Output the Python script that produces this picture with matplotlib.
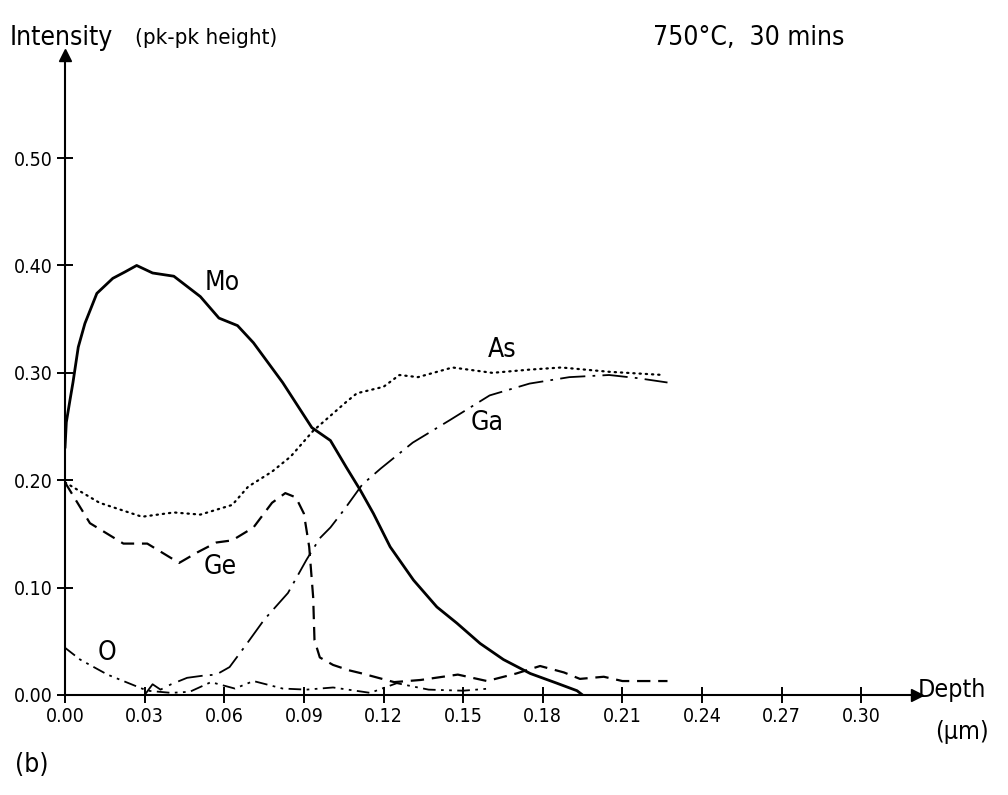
import matplotlib
matplotlib.use("Agg")
import matplotlib.pyplot as plt

plt.rcParams['font.family'] = ['DejaVu Sans']
plt.rcParams['font.stretch'] = 'condensed'

# depth (um) / intensity (pk-pk height)
mo_x = [0.0, 0.0005, 0.0019, 0.003, 0.005, 0.0075, 0.012, 0.018, 0.0226, 0.027, 0.033, 0.041,
        0.051, 0.058, 0.065, 0.071, 0.082, 0.093, 0.100, 0.106, 0.1112, 0.1162, 0.1225, 0.1313,
        0.1401, 0.1476, 0.1564, 0.1652, 0.1753, 0.1853, 0.1929, 0.195]
mo_y = [0.230, 0.254, 0.275, 0.291, 0.324, 0.346, 0.374, 0.388, 0.394, 0.400, 0.393, 0.390,
        0.371, 0.351, 0.344, 0.328, 0.291, 0.249, 0.237, 0.212, 0.191, 0.169, 0.138, 0.107,
        0.082, 0.067, 0.048, 0.033, 0.020, 0.011, 0.004, 0.0]

as_x = [0.0, 0.013, 0.029, 0.041, 0.051, 0.063, 0.069, 0.078, 0.085, 0.0935, 0.106, 0.110,
        0.120, 0.126, 0.133, 0.146, 0.161, 0.175, 0.187, 0.205, 0.2255]
as_y = [0.198, 0.179, 0.166, 0.170, 0.168, 0.177, 0.194, 0.208, 0.222, 0.246, 0.273, 0.281,
        0.287, 0.298, 0.296, 0.305, 0.300, 0.303, 0.305, 0.301, 0.298]

ga_x = [0.030, 0.033, 0.036, 0.040, 0.046, 0.052, 0.057, 0.062, 0.068, 0.075, 0.084, 0.091,
        0.096, 0.100, 0.105, 0.112, 0.119, 0.131, 0.145, 0.160, 0.175, 0.190, 0.205, 0.216, 0.227]
ga_y = [0.0, 0.010, 0.005, 0.010, 0.016, 0.018, 0.019, 0.026, 0.046, 0.070, 0.095, 0.126,
        0.146, 0.156, 0.172, 0.196, 0.211, 0.235, 0.256, 0.279, 0.290, 0.296, 0.298, 0.295, 0.291]

ge_x = [0.0, 0.0094, 0.022, 0.031, 0.037, 0.043, 0.050, 0.057, 0.063, 0.071, 0.078, 0.083,
        0.087, 0.090, 0.092, 0.0935, 0.094, 0.096, 0.101, 0.107, 0.112, 0.124, 0.134, 0.148,
        0.159, 0.170, 0.179, 0.188, 0.194, 0.203, 0.210, 0.227]
ge_y = [0.198, 0.160, 0.141, 0.141, 0.132, 0.123, 0.133, 0.142, 0.144, 0.156, 0.179, 0.188,
        0.184, 0.169, 0.138, 0.091, 0.051, 0.035, 0.028, 0.023, 0.020, 0.012, 0.014, 0.019,
        0.013, 0.020, 0.027, 0.021, 0.015, 0.017, 0.013, 0.013]

o_x = [0.0, 0.0057, 0.016, 0.026, 0.031, 0.040, 0.047, 0.055, 0.064, 0.071, 0.082, 0.091,
       0.101, 0.115, 0.125, 0.137, 0.150, 0.160]
o_y = [0.044, 0.033, 0.019, 0.009, 0.004, 0.002, 0.003, 0.012, 0.006, 0.013, 0.006, 0.005,
       0.007, 0.002, 0.011, 0.005, 0.004, 0.006]

labels = ['Mo', 'As', 'Ga', 'Ge', 'O']
label_pos = [(0.0592, 0.384), (0.1647, 0.321), (0.159, 0.253), (0.0584, 0.119), (0.0158, 0.039)]

x_ticks = [0.00, 0.03, 0.06, 0.09, 0.12, 0.15, 0.18, 0.21, 0.24, 0.27, 0.30]
y_ticks = [0.00, 0.10, 0.20, 0.30, 0.40, 0.50]

W, H = 1008, 795
fig = plt.figure(figsize=(W / 100, H / 100), dpi=100)
ax = fig.add_axes([65 / W, 100 / H, 852 / W, 640 / H])
ax.set_xlim(0, 0.321)
ax.set_ylim(0, 0.596)

ax.plot(mo_x, mo_y, color='black', lw=2.0, solid_capstyle='round')
ax.plot(as_x, as_y, color='black', lw=1.6, linestyle=(0, (0.6, 2.2)), dash_capstyle='round')
ax.plot(ga_x, ga_y, color='black', lw=1.3, linestyle=(0, (14, 4, 1.5, 4)))
ax.plot(ge_x, ge_y, color='black', lw=1.6, linestyle=(0, (6, 3.5)))
ax.plot(o_x, o_y, color='black', lw=1.3, linestyle=(0, (7, 3, 1.5, 3, 1.5, 3)))

for lab, (lx, ly) in zip(labels, label_pos):
    ax.text(lx, ly, lab, fontsize=19, ha='center', va='center')

# axes with arrow heads
for s in ['top', 'right']:
    ax.spines[s].set_visible(False)
for s in ['left', 'bottom']:
    ax.spines[s].set_linewidth(1.5)
ax.plot([1], [0], marker='>', color='black', markersize=8, transform=ax.transAxes, clip_on=False)
ax.plot([0], [1], marker='^', color='black', markersize=8, transform=ax.transAxes, clip_on=False)

ax.set_xticks(x_ticks)
ax.set_xticklabels([f'{t:.2f}' for t in x_ticks])
ax.set_yticks(y_ticks)
ax.set_yticklabels([f'{t:.2f}' for t in y_ticks])
ax.tick_params(direction='inout', length=12, width=1.4, labelsize=14, pad=3)

fig.text(10 / W, 1 - 38 / H, 'Intensity', fontsize=19, va='center', ha='left')
fig.text(135 / W, 1 - 38 / H, '(pk-pk height)', fontsize=16, va='center', ha='left')
fig.text(653 / W, 1 - 38 / H, '750°C,  30 mins', fontsize=19, va='center', ha='left')
fig.text(918 / W, 1 - 690 / H, 'Depth', fontsize=18, va='center', ha='left')
fig.text(935 / W, 1 - 732 / H, '(µm)', fontsize=18, va='center', ha='left')
fig.text(15 / W, 1 - 765 / H, '(b)', fontsize=19, va='center', ha='left')

fig.savefig('out.png', dpi=100)
